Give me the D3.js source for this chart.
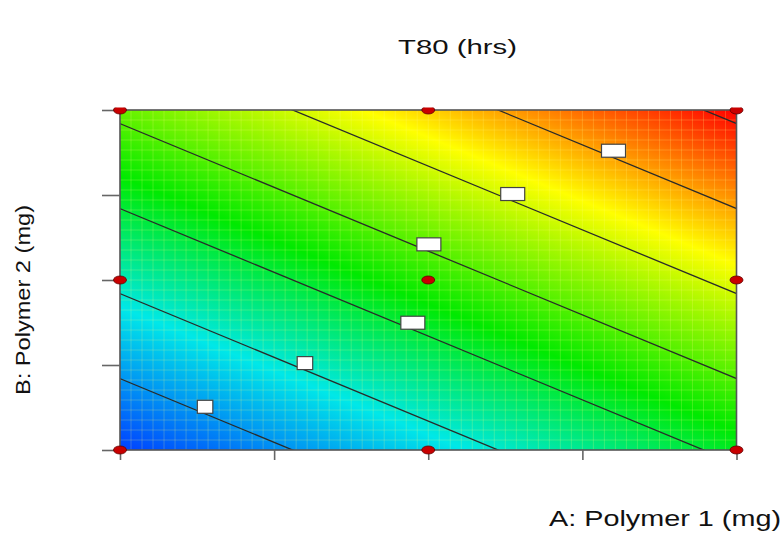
<!DOCTYPE html>
<html>
<head>
<meta charset="utf-8">
<script src="https://cdn.jsdelivr.net/npm/d3@7/dist/d3.min.js"></script>
<style>
  body { margin: 0; background: #fff; }
  text { font-family: "Liberation Sans", Arial, sans-serif; fill: #111; }
</style>
</head>
<body>
<svg id="chart" width="783" height="560"></svg>
<script>
// factor ticks (coded units, the original shows no tick labels)
const aTicks = [-1, -0.5, 0, 0.5, 1];
const bTicks = [-1, -0.5, 0, 0.5, 1];

// fitted linear model for T80: intercept, A, B
const modelTerms = ["Intercept", "A", "B"];
const modelCoefs = [283, 75, 100];

// contour levels and where their labels sit along A
const levels = [150, 200, 250, 300, 350, 400, 450];
const labelLevels = [150, 200, 250, 300, 350, 400];
const labelA = [-0.724, -0.400, -0.050, 0.002, 0.274, 0.601];

// design points (3x3 factorial)
const pointsA = [-1, 0, 1, -1, 0, 1, -1, 0, 1];
const pointsB = [-1, -1, -1, 0, 0, 0, 1, 1, 1];

const svg = d3.select("#chart"),
    pLeft = 120, pRight = 736.5, pTop = 110, pBottom = 450;

const x = d3.scaleLinear().domain([-1, 1]).range([pLeft, pRight]);
const y = d3.scaleLinear().domain([-1, 1]).range([pBottom, pTop]);

const [b0, bA, bB] = modelCoefs;
const f = (a, b) => b0 + bA * a + bB * b;
const tMin = f(-1, -1), tMax = f(1, 1);

const color = d3.scaleLinear()
    .domain([0, 0.24, 0.46, 0.74, 1].map(t => tMin + t * (tMax - tMin)))
    .range(["#0040ff", "#00e8e8", "#00ea00", "#ffff00", "#ff0000"]);

const defs = svg.append("defs");

// the response is linear, so the colour field is a straight gradient
const gx = bA / (x(1) - x(0)), gy = bB / (y(1) - y(0));
const g2 = gx * gx + gy * gy;
const p1 = [x(-1), y(-1)];
const p2 = [p1[0] + gx * (tMax - tMin) / g2, p1[1] + gy * (tMax - tMin) / g2];

const grad = defs.append("linearGradient")
    .attr("id", "surface")
    .attr("gradientUnits", "userSpaceOnUse")
    .attr("x1", p1[0]).attr("y1", p1[1])
    .attr("x2", p2[0]).attr("y2", p2[1]);

grad.selectAll("stop")
    .data(color.domain())
    .enter().append("stop")
    .attr("offset", d => (d - tMin) / (tMax - tMin))
    .attr("stop-color", d => color(d));

defs.append("clipPath").attr("id", "plot-clip")
    .append("rect")
    .attr("x", pLeft).attr("y", pTop)
    .attr("width", pRight - pLeft).attr("height", pBottom - pTop);

defs.append("clipPath").attr("id", "dot-clip")
    .append("rect")
    .attr("x", 0).attr("y", pTop - 2.5)
    .attr("width", 783).attr("height", 560);

svg.append("rect")
    .attr("x", pLeft).attr("y", pTop)
    .attr("width", pRight - pLeft).attr("height", pBottom - pTop)
    .attr("fill", "url(#surface)");

// faint mesh of the rendered surface
const mesh = svg.append("g")
    .attr("clip-path", "url(#plot-clip)")
    .attr("stroke", "#ffff80")
    .attr("stroke-opacity", 0.22)
    .attr("stroke-width", 1);

mesh.selectAll(".mv")
    .data(d3.range(1, 56))
    .enter().append("line")
    .attr("x1", i => pLeft + i * (pRight - pLeft) / 56)
    .attr("x2", i => pLeft + i * (pRight - pLeft) / 56)
    .attr("y1", pTop).attr("y2", pBottom);

mesh.selectAll(".mh")
    .data(d3.range(1, 34))
    .enter().append("line")
    .attr("y1", i => pTop + i * (pBottom - pTop) / 34)
    .attr("y2", i => pTop + i * (pBottom - pTop) / 34)
    .attr("x1", pLeft).attr("x2", pRight);

// contour lines
const contourB = (level, a) => (level - b0 - bA * a) / bB;

svg.append("g")
    .attr("clip-path", "url(#plot-clip)")
    .selectAll("line")
    .data(levels)
    .enter().append("line")
    .attr("x1", x(-1.5)).attr("y1", d => y(contourB(d, -1.5)))
    .attr("x2", x(1.5)).attr("y2", d => y(contourB(d, 1.5)))
    .attr("stroke", "#2a2a2a")
    .attr("stroke-width", 1.3);

// contour labels (boxes)
const labelWidth = d => (d < 220 ? 15.5 : 24);
const labelH = 13;

svg.append("g")
    .selectAll("rect")
    .data(labelLevels)
    .enter().append("rect")
    .attr("x", (d, i) => x(labelA[i]) - labelWidth(d) / 2)
    .attr("y", (d, i) => y(contourB(d, labelA[i])) - labelH - 0.5)
    .attr("width", d => labelWidth(d))
    .attr("height", labelH)
    .attr("fill", "#fff")
    .attr("stroke", "#444")
    .attr("stroke-width", 1.2);

// frame
svg.append("rect")
    .attr("x", pLeft).attr("y", pTop)
    .attr("width", pRight - pLeft).attr("height", pBottom - pTop)
    .attr("fill", "none")
    .attr("stroke", "#555")
    .attr("stroke-width", 1.6);

// axes (ticks only)
const xAxis = svg.append("g")
    .attr("transform", "translate(0," + pBottom + ")")
    .call(d3.axisBottom(x).tickValues(aTicks).tickSize(10).tickFormat(""));

const yAxis = svg.append("g")
    .attr("transform", "translate(" + pLeft + ",0)")
    .call(d3.axisLeft(y).tickValues(bTicks).tickSize(18).tickFormat(""));

[xAxis, yAxis].forEach(ax => {
    ax.select(".domain").remove();
    ax.selectAll(".tick line").attr("stroke", "#666").attr("stroke-width", 1.6);
});

// design points
svg.append("g")
    .attr("clip-path", "url(#dot-clip)")
    .selectAll("ellipse")
    .data(pointsA)
    .enter().append("ellipse")
    .attr("cx", d => x(d))
    .attr("cy", (d, i) => y(pointsB[i]))
    .attr("rx", 6.5)
    .attr("ry", 4)
    .attr("fill", "#c80000")
    .attr("stroke", "#600000")
    .attr("stroke-width", 0.8);

// titles
svg.append("text")
    .attr("x", 457.5).attr("y", 54)
    .attr("text-anchor", "middle")
    .attr("font-size", 21)
    .attr("textLength", 119)
    .attr("lengthAdjust", "spacingAndGlyphs")
    .text("T80 (hrs)");

svg.append("text")
    .attr("x", 781).attr("y", 526)
    .attr("text-anchor", "end")
    .attr("font-size", 22)
    .attr("textLength", 232)
    .attr("lengthAdjust", "spacingAndGlyphs")
    .text("A: Polymer 1 (mg)");

svg.append("text")
    .attr("transform", "translate(30,300) rotate(-90)")
    .attr("text-anchor", "middle")
    .attr("font-size", 21)
    .attr("textLength", 190)
    .attr("lengthAdjust", "spacingAndGlyphs")
    .text("B: Polymer 2 (mg)");
</script>
</body>
</html>
